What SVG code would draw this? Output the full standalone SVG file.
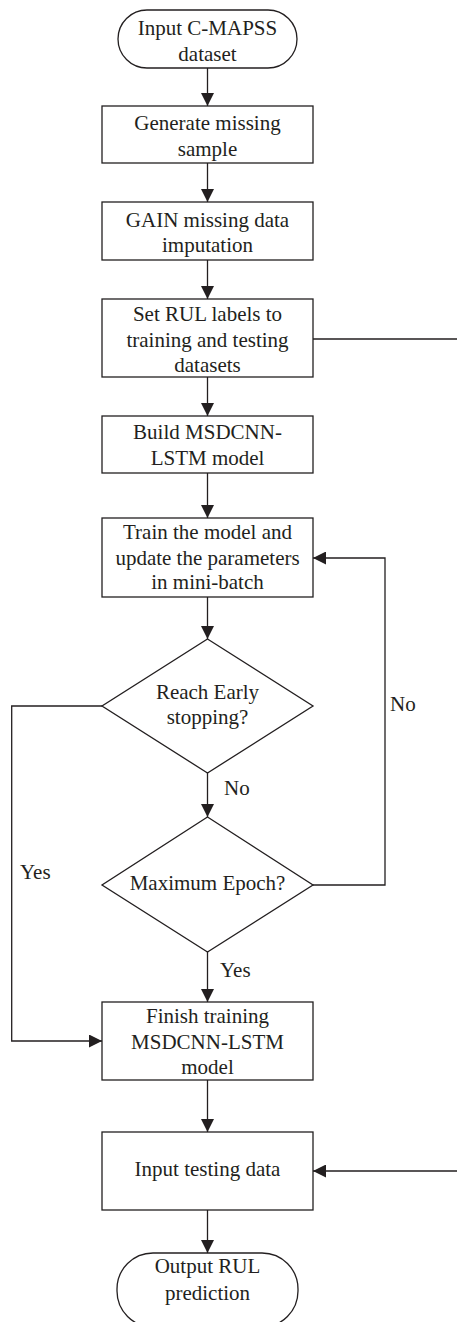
<svg xmlns="http://www.w3.org/2000/svg" width="457" height="1322" viewBox="0 0 457 1322">
<style>
.shape{fill:#ffffff;stroke:#231f20;stroke-width:1.3}
.conn{fill:none;stroke:#231f20;stroke-width:1.3}
text{font-family:"Liberation Serif","Times New Roman",serif;font-size:21px;fill:#231f20}
.c{text-anchor:middle}
</style>
<defs>
<marker id="arr" markerUnits="userSpaceOnUse" viewBox="0 0 13 13" markerWidth="13" markerHeight="13" refX="13" refY="6.5" orient="auto">
<path d="M0,0 L13,6.5 L0,13 Z" fill="#231f20"/>
</marker>
</defs>
<rect width="457" height="1322" fill="#ffffff"/>
<g id="connectors">
<line class="conn" x1="207.5" y1="68" x2="207.5" y2="106" marker-end="url(#arr)"/>
<line class="conn" x1="207.5" y1="163" x2="207.5" y2="202" marker-end="url(#arr)"/>
<line class="conn" x1="207.5" y1="260" x2="207.5" y2="299" marker-end="url(#arr)"/>
<line class="conn" x1="207.5" y1="377" x2="207.5" y2="416" marker-end="url(#arr)"/>
<line class="conn" x1="207.5" y1="473" x2="207.5" y2="518" marker-end="url(#arr)"/>
<line class="conn" x1="207.5" y1="597" x2="207.5" y2="639" marker-end="url(#arr)"/>
<line class="conn" x1="207.5" y1="773" x2="207.5" y2="817" marker-end="url(#arr)"/>
<line class="conn" x1="207.5" y1="952" x2="207.5" y2="1002" marker-end="url(#arr)"/>
<line class="conn" x1="207.5" y1="1080" x2="207.5" y2="1132" marker-end="url(#arr)"/>
<line class="conn" x1="207.5" y1="1210" x2="207.5" y2="1253" marker-end="url(#arr)"/>
<polyline class="conn" points="102,706 11.7,706 11.7,1041 102,1041" marker-end="url(#arr)"/>
<polyline class="conn" points="313,885 385,885 385,558 313,558" marker-end="url(#arr)"/>
<polyline class="conn" points="313,339 470,339 470,1171 313,1171" marker-end="url(#arr)"/>
<text x="390" y="711">No</text>
<text x="224" y="795">No</text>
<text x="20" y="879">Yes</text>
<text x="220" y="977">Yes</text>
</g>
<g id="n_input">
<rect class="shape" x="118" y="10" width="179" height="58" rx="29" ry="29"/>
<text class="c" x="207.5" y="35">Input C-MAPSS</text>
<text class="c" x="207.5" y="61">dataset</text>
</g>
<g id="n_generate">
<rect class="shape" x="102" y="106" width="211" height="57"/>
<text class="c" x="207.5" y="130">Generate missing</text>
<text class="c" x="207.5" y="156">sample</text>
</g>
<g id="n_gain">
<rect class="shape" x="102" y="202" width="211" height="58"/>
<text class="c" x="207.5" y="226.5">GAIN missing data</text>
<text class="c" x="207.5" y="252">imputation</text>
</g>
<g id="n_setrul">
<rect class="shape" x="102" y="299" width="211" height="78"/>
<text class="c" x="207.5" y="320.5">Set RUL labels to</text>
<text class="c" x="207.5" y="346.5">training and testing</text>
<text class="c" x="207.5" y="371.5">datasets</text>
</g>
<g id="n_build">
<rect class="shape" x="102" y="416" width="211" height="57"/>
<text class="c" x="207.5" y="438.5">Build MSDCNN-</text>
<text class="c" x="207.5" y="465">LSTM model</text>
</g>
<g id="n_train">
<rect class="shape" x="102" y="518" width="211" height="79"/>
<text class="c" x="207.5" y="538.5">Train the model and</text>
<text class="c" x="207.5" y="565">update the parameters</text>
<text class="c" x="207.5" y="589">in mini-batch</text>
</g>
<g id="n_early">
<polygon class="shape" points="207.5,639 313,706 207.5,773 102,706"/>
<text class="c" x="207.5" y="699">Reach Early</text>
<text class="c" x="207.5" y="723.5">stopping?</text>
</g>
<g id="n_epoch">
<polygon class="shape" points="207.5,817 313,885 207.5,952 102,885"/>
<text class="c" x="207.5" y="890">Maximum Epoch?</text>
</g>
<g id="n_finish">
<rect class="shape" x="102" y="1002" width="211" height="78"/>
<text class="c" x="207.5" y="1022.5">Finish training</text>
<text class="c" x="207.5" y="1048.5">MSDCNN-LSTM</text>
<text class="c" x="207.5" y="1074">model</text>
</g>
<g id="n_testing">
<rect class="shape" x="102" y="1132" width="211" height="78"/>
<text class="c" x="207.5" y="1176">Input testing data</text>
</g>
<g id="n_output">
<rect class="shape" x="117" y="1253" width="181" height="74" rx="36" ry="36"/>
<text class="c" x="207.5" y="1273">Output RUL</text>
<text class="c" x="207.5" y="1299.5">prediction</text>
</g>
</svg>
